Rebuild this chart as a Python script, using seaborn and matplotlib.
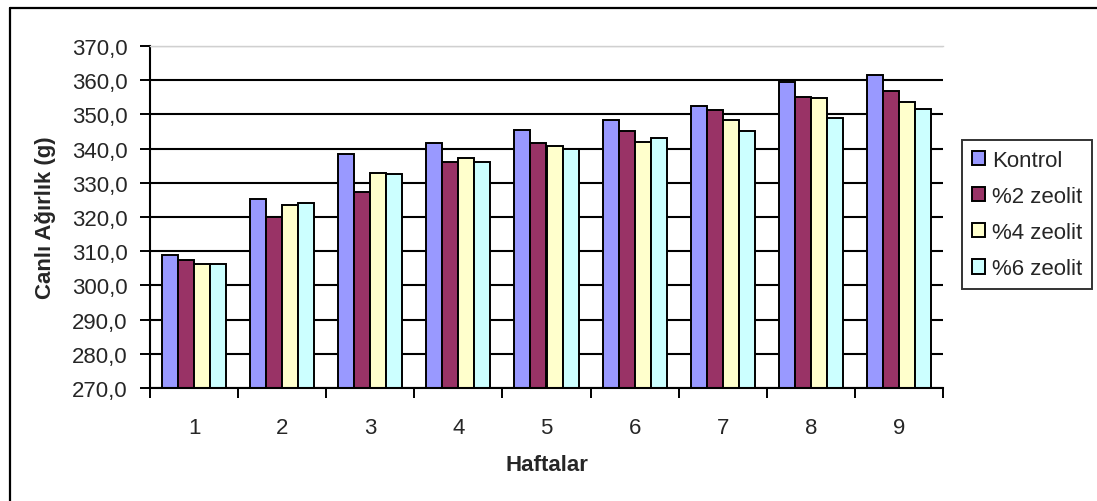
import matplotlib
matplotlib.use("Agg")
import matplotlib.pyplot as plt
from matplotlib.lines import Line2D
from matplotlib.ticker import FuncFormatter, FixedLocator, NullFormatter
import seaborn as sns
import pandas as pd

weeks = ["1", "2", "3", "4", "5", "6", "7", "8", "9"]
groups = ["Kontrol", "%2 zeolit", "%4 zeolit", "%6 zeolit"]
kontrol = [308.8, 325.4, 338.3, 341.5, 345.3, 348.5, 352.6, 359.5, 361.6]
zeolit2 = [307.4, 320.0, 327.4, 336.2, 341.5, 345.2, 351.2, 355.2, 356.8]
zeolit4 = [306.3, 323.4, 333.0, 337.3, 340.9, 342.0, 348.5, 354.7, 353.7]
zeolit6 = [306.3, 324.0, 332.5, 336.2, 339.9, 343.1, 345.2, 348.9, 351.6]
colors = ["#9999FF", "#993366", "#FFFFCC", "#CCFFFF"]

rows = []
for name, vals in zip(groups, [kontrol, zeolit2, zeolit4, zeolit6]):
    for w, v in zip(weeks, vals):
        rows.append({"Hafta": w, "Grup": name, "Ağırlık": v})
df = pd.DataFrame(rows)

sns.set_theme(style="white")
plt.rcParams["font.family"] = ["Liberation Sans", "DejaVu Sans"]

FS = 16
W, H = 1097, 502
fig = plt.figure(figsize=(W / 100, H / 100), dpi=100)
ax = fig.add_axes([150 / W, 1 - 389 / H, (943 - 150) / W, (389 - 47) / H])

sns.barplot(data=df, x="Hafta", y="Ağırlık", hue="Grup", order=weeks,
            hue_order=groups, palette=colors, width=4 / 5.5, gap=0,
            edgecolor="black", linewidth=1.4, saturation=1, errorbar=None,
            ax=ax)

ax.set_ylim(270, 370)
ax.set_xlim(-0.5, len(weeks) - 0.5)
ax.set_yticks(range(270, 371, 10))
ax.yaxis.set_major_formatter(FuncFormatter(lambda v, p: f"{v:.1f}".replace(".", ",")))

ax.set_axisbelow(True)
ax.yaxis.grid(True, color="black", linewidth=1.5)
ax.xaxis.grid(False)

# category separators as outward ticks, labels centred without ticks
ax.xaxis.set_minor_locator(FixedLocator([i - 0.5 for i in range(len(weeks) + 1)]))
ax.xaxis.set_minor_formatter(NullFormatter())
ax.tick_params(axis="x", which="major", length=0, pad=21, labelsize=FS)
ax.tick_params(axis="x", which="minor", length=7, width=1.4, color="black",
               direction="out", bottom=True)
ax.tick_params(axis="y", length=7, width=1.4, color="black", direction="out",
               left=True, pad=9, labelsize=FS)

for side in ["left", "bottom"]:
    ax.spines[side].set_color("black")
    ax.spines[side].set_linewidth(1.5)
ax.spines["right"].set_visible(False)
ax.spines["top"].set_color("#d0d0d0")
ax.spines["top"].set_linewidth(1.0)
ax.spines["top"].set_zorder(5)

ax.set_xlabel("Haftalar", fontsize=FS, fontweight="bold")
ax.set_ylabel("Canlı Ağırlık (g)", fontsize=FS, fontweight="bold")
ax.xaxis.label.set_va("center")
ax.yaxis.label.set_va("center")
ax.xaxis.set_label_coords(0.5, (389 - 466) / 342)
ax.yaxis.set_label_coords((45 - 150) / 793, 0.5)

handles, labels = ax.get_legend_handles_labels()
if ax.legend_:
    ax.legend_.remove()
leg = fig.legend(handles, labels, loc="upper left",
                 bbox_to_anchor=(962 / W, 1 - 141 / H),
                 bbox_transform=fig.transFigure, borderaxespad=0,
                 fontsize=FS, frameon=True, fancybox=False,
                 edgecolor="black", handlelength=0.6, handleheight=0.6,
                 handletextpad=0.3, labelspacing=0.68, borderpad=0.45)
leg.get_frame().set_linewidth(1.4)

# chart frame
fig.add_artist(Line2D([9.5 / W, 9.5 / W], [0, 1 - 8.5 / H], color="black",
                      linewidth=1.6, transform=fig.transFigure))
fig.add_artist(Line2D([9.5 / W, 1], [1 - 8.5 / H, 1 - 8.5 / H], color="black",
                      linewidth=1.6, transform=fig.transFigure))

fig.savefig("out.png", dpi=100, facecolor="white")
